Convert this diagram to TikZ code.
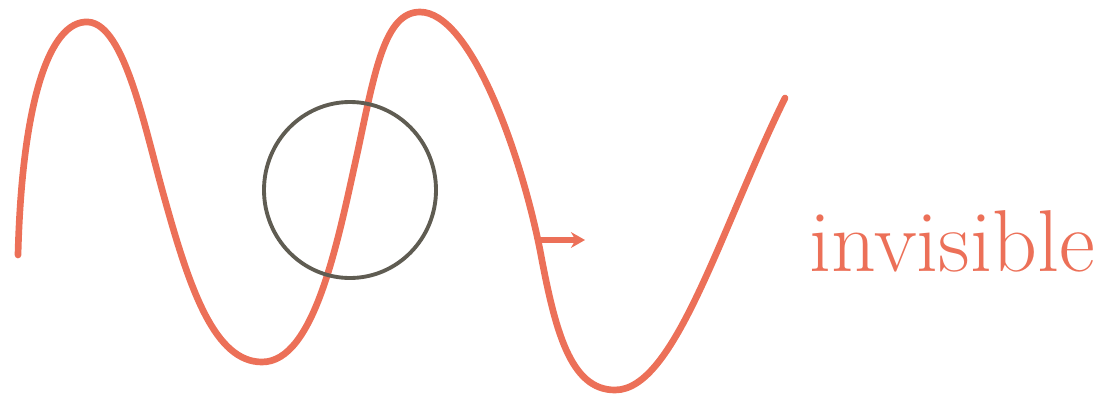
\documentclass[tikz,border=0pt]{standalone}
\usepackage{fontspec}
\usetikzlibrary{arrows.meta}
\definecolor{penred}{RGB}{236,112,88}
\definecolor{pengray}{RGB}{95,92,82}
\begin{document}
\begin{tikzpicture}
    [x=0.02cm,y=-0.02cm]
    \useasboundingbox (0,0) rectangle (1118,406);
    %wave
    \draw[penred,line width=3.8pt,line cap=round]
    (18,255) .. controls (22,100) and (50,20) .. (88,22)
    .. controls (125,24) and (145,130) .. (165,200)
    .. controls (190,290) and (215,362) .. (262,362)
    .. controls (315,362) and (338,240) .. (358,150)
    .. controls (375,70) and (385,12) .. (420,12)
    .. controls (470,12) and (520,150) .. (540,250)
    .. controls (555,330) and (570,390) .. (615,390)
    .. controls (675,390) and (720,230) .. (785,98);
    %circle
    \draw[pengray,line width=2.2pt] (350,190) ellipse [x radius=86,y radius=88];
    %arrow
    \coordinate (start) at (541,240);
    \coordinate (tip) at (585,240);
    \draw[penred,line width=3pt,-{Stealth[length=8pt,width=9pt]}] (start) -- (tip);
    %label
    \node[penred,anchor=base,inner sep=0pt,font=\fontsize{50}{54}\selectfont] (lbl) at (952,271) {invisible};
\end{tikzpicture}
\end{document}
